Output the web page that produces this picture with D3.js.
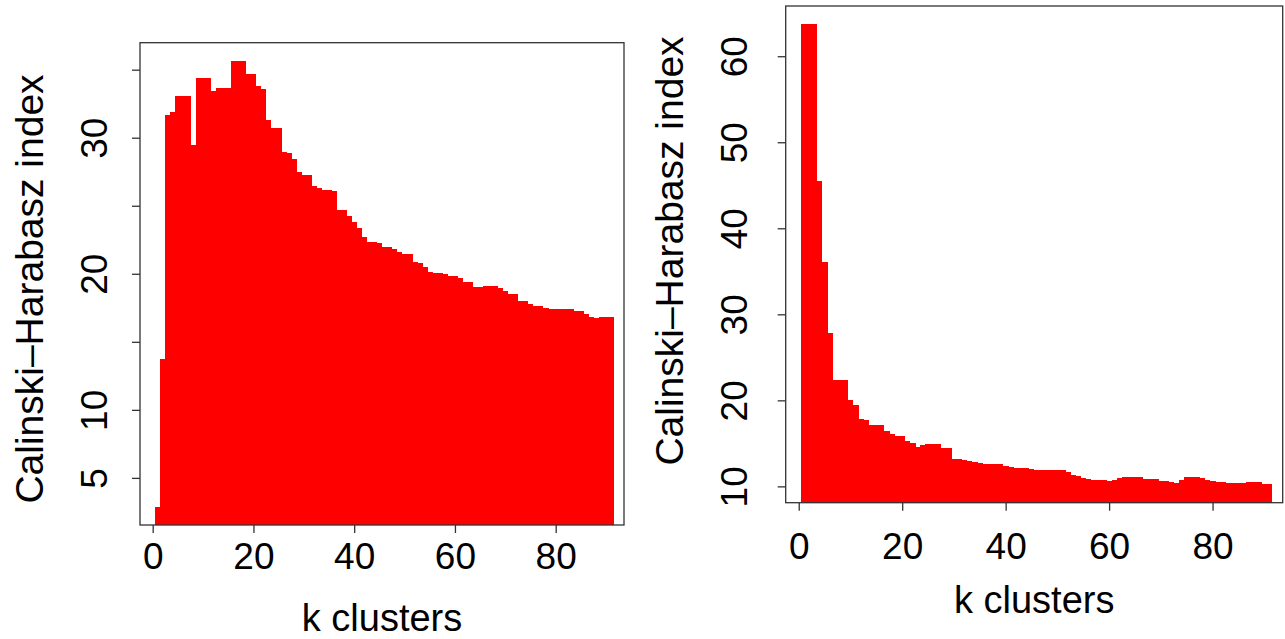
<!DOCTYPE html>
<html lang="en">
<head>
    <meta charset="UTF-8">
    <title>Calinski-Harabasz index</title>
    <script src="https://cdn.jsdelivr.net/npm/d3@7/dist/d3.min.js"></script>
    <style>
        body { margin: 0; background: #fff; }
        text { font-family: "Liberation Sans", Arial, sans-serif; fill: #000; }
    </style>
</head>
<body>
    <script>
        const width = 1285;
        const height = 639;

        // k = 1..91 (index + 1)
        const leftValues = [
            2.85, 13.73, 31.7, 31.86, 33.08, 33.08, 33.08, 29.46, 34.4, 34.4,
            34.4, 33.45, 33.62, 33.62, 33.62, 35.67, 35.67, 35.67, 34.7, 34.7,
            33.8, 33.57, 31.29, 30.68, 30.68, 28.92, 28.84, 28.4, 27.48, 27.26,
            27.26, 26.45, 26.33, 26.13, 26.13, 26.1, 24.69, 24.69, 24.22, 23.78,
            23.39, 22.68, 22.32, 22.32, 22.24, 21.95, 21.95, 21.83, 21.58, 21.44,
            21.44, 20.9, 20.8, 20.5, 20.11, 20.07, 20.05, 19.97, 19.85, 19.85,
            19.67, 19.38, 19.38, 19.06, 19.01, 19.09, 19.09, 19.09, 18.94, 18.75,
            18.52, 18.52, 18.01, 18.01, 17.77, 17.6, 17.6, 17.47, 17.38, 17.38,
            17.38, 17.38, 17.38, 17.25, 17.25, 17.08, 16.84, 16.76, 16.84, 16.84,
            16.84
        ];
        const rightValues = [
            63.7, 63.7, 63.7, 45.45, 36.13, 27.79, 22.35, 22.35, 22.35, 20.02,
            19.44, 17.8, 17.77, 17.19, 17.19, 17.19, 16.41, 16.06, 15.83, 15.83,
            15.25, 15.05, 14.63, 14.78, 14.93, 14.93, 14.93, 14.51, 14.51, 13.23,
            13.21, 13.07, 12.92, 12.85, 12.76, 12.65, 12.65, 12.65, 12.65, 12.41,
            12.25, 12.14, 12.14, 12.14, 11.98, 11.96, 11.96, 11.96, 11.96, 11.95,
            11.93, 11.67, 11.36, 11.2, 11.01, 10.9, 10.74, 10.74, 10.74, 10.62,
            10.76, 11.01, 11.13, 11.13, 11.13, 11.05, 10.9, 10.9, 10.9, 10.59,
            10.59, 10.53, 10.43, 10.7, 11.05, 11.05, 11.05, 10.97, 10.74, 10.62,
            10.55, 10.47, 10.39, 10.39, 10.39, 10.39, 10.47, 10.47, 10.47, 10.32,
            10.24
        ];

        const xTicks = [0, 20, 40, 60, 80];
        const leftYTicks = [5, 10, 15, 20, 25, 30, 35];
        const leftYLabels = [5, 10, 20, 30];
        const rightYTicks = [10, 20, 30, 40, 50, 60];
        const rightYLabels = [10, 20, 30, 40, 50, 60];
        const xlim = [-2.52, 93.56];

        const xTitle = 'k clusters';
        const yTitle = 'Calinski\u2013Harabasz index';

        const bar_color = '#ff0000';
        const box_color = '#333';

        var svg = d3.select('body')
                    .append('svg')
                    .attr('width', width)
                    .attr('height', height);

        function draw_panel(values, yTicks, yLabels, box, lay){
            var lo = d3.min(values), hi = d3.max(values);
            var pad = (hi - lo) * 0.04;

            var xScale = d3.scaleLinear().domain(xlim).range([box.x0, box.x1]);
            var yScale = d3.scaleLinear().domain([lo - pad, hi + pad]).range([box.y1, box.y0]);

            var g = svg.append('g');

            g.append('g')
                .selectAll('rect')
                .data(values)
                .enter()
                .append('rect')
                .attr('x', function(d, i){ return xScale(i + 1 - 0.5); })
                .attr('width', function(d, i){ return xScale(i + 1.5) - xScale(i + 0.5) + 0.4; })
                .attr('y', function(d){ return yScale(d); })
                .attr('height', function(d){ return box.y1 - yScale(d); })
                .attr('fill', bar_color)
                .attr('shape-rendering', 'crispEdges');

            // x axis
            var xAxis = d3.axisBottom(xScale).tickValues(xTicks).tickSize(lay.tick).tickSizeOuter(0).tickPadding(lay.xPad);
            var ax = g.append('g').attr('transform', 'translate(0,' + box.y1 + ')').call(xAxis);
            ax.select('.domain').remove();
            ax.selectAll('line').attr('stroke', box_color).attr('stroke-width', 1.3);
            ax.selectAll('text').attr('font-size', lay.tickFont).attr('fill', '#000')
                .style('font-family', '"Liberation Sans", Arial, sans-serif');

            // y axis
            var yAxis = d3.axisLeft(yScale).tickValues(yTicks).tickSize(lay.tick).tickSizeOuter(0)
                .tickFormat(function(d){ return yLabels.indexOf(d) > -1 ? d : ''; });
            var ay = g.append('g').attr('transform', 'translate(' + box.x0 + ',0)').call(yAxis);
            ay.select('.domain').remove();
            ay.selectAll('line').attr('stroke', box_color).attr('stroke-width', 1.3);
            ay.selectAll('text')
                .attr('font-size', lay.tickFont)
                .attr('fill', '#000')
                .style('font-family', '"Liberation Sans", Arial, sans-serif')
                .attr('text-anchor', 'middle')
                .attr('dy', null)
                .attr('x', null)
                .attr('transform', 'translate(' + (lay.yLabX - box.x0) + ',0) rotate(-90)');

            // box
            g.append('rect')
                .attr('x', box.x0)
                .attr('y', box.y0)
                .attr('width', box.x1 - box.x0)
                .attr('height', box.y1 - box.y0)
                .attr('fill', 'none')
                .attr('stroke', box_color)
                .attr('stroke-width', 1.3);

            g.append('text')
                .attr('x', (box.x0 + box.x1) / 2)
                .attr('y', lay.xTitleY)
                .attr('text-anchor', 'middle')
                .attr('font-size', 38)
                .text(xTitle);

            g.append('text')
                .attr('transform', 'translate(' + lay.yTitleX + ',' + lay.yTitleCy + ') rotate(-90)')
                .attr('text-anchor', 'middle')
                .attr('font-size', 39)
                .text(yTitle);
        }

        draw_panel(leftValues, leftYTicks, leftYLabels,
            {x0: 140, x1: 624, y0: 42.7, y1: 525},
            {tick: 8, xPad: 10, tickFont: 37, yLabX: 107, xTitleY: 631, yTitleX: 43, yTitleCy: 289});

        draw_panel(rightValues, rightYTicks, rightYLabels,
            {x0: 785.7, x1: 1282.7, y0: 6, y1: 502.7},
            {tick: 8, xPad: 22, tickFont: 37, yLabX: 747, xTitleY: 613, yTitleX: 683, yTitleCy: 251});
    </script>
</body>
</html>
